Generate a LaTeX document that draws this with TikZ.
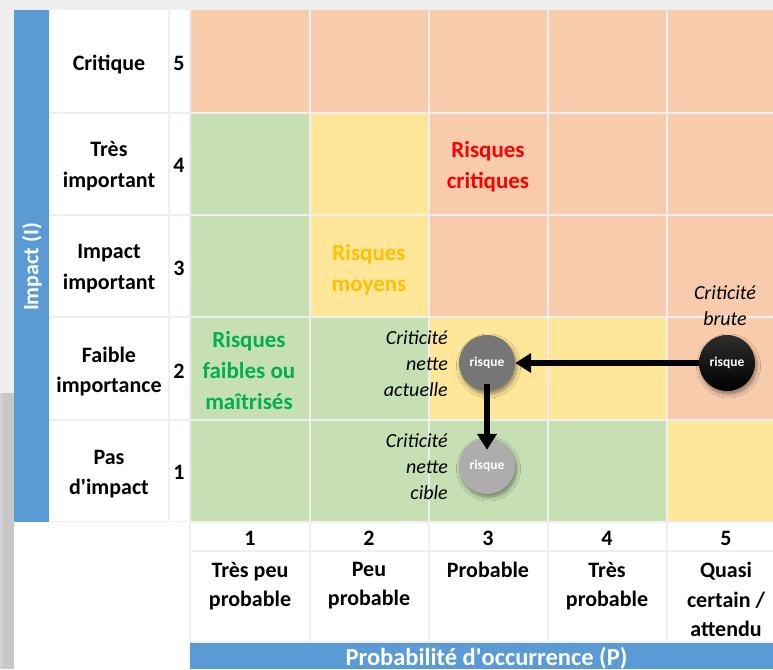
\documentclass[tikz,border=0pt]{standalone}
\usepackage{fontspec}
\setmainfont{Carlito}
\usetikzlibrary{arrows.meta,shadows,shadows.blur}
\definecolor{bggray}{HTML}{EFEFEF}
\definecolor{dkgray}{HTML}{C8C8C8}
\definecolor{ltgray}{HTML}{D2D2D2}
\definecolor{linegray}{HTML}{EFEFEF}
\definecolor{corange}{HTML}{F8CBAD}
\definecolor{cgreen}{HTML}{C6E0B4}
\definecolor{cyellow}{HTML}{FFE699}
\definecolor{cblue}{HTML}{5B9BD5}
\definecolor{tred}{HTML}{FF0000}
\definecolor{tgold}{HTML}{FFC000}
\definecolor{tgreen}{HTML}{00B050}
\definecolor{cdark}{HTML}{767676}
\definecolor{clight}{HTML}{ADADAD}
\newcommand{\qapos}{\textquotesingle}
\begin{document}
\begin{tikzpicture}[x=1pt,y=-1pt,
  txt/.style={inner sep=0pt, align=center, execute at begin node=\strut, execute at end node=\strut},
  lbl/.style={txt, font=\fontsize{22}{30.5}\selectfont\bfseries},
  blbl/.style={txt, font=\fontsize{22}{29.5}\selectfont\bfseries, anchor=north},
  risk/.style={txt, font=\fontsize{23}{31}\selectfont\bfseries},
  crit/.style={txt, font=\fontsize{20}{26}\selectfont\itshape},
  bluetxt/.style={inner sep=0pt, text=white},
  riskball/.style={circle, inner sep=0pt, minimum size=56pt, text=white,
    font=\fontsize{13.5}{16}\selectfont\bfseries,
    blur shadow={shadow xshift=1.5pt, shadow yshift=-3pt, shadow blur radius=4pt, shadow blur steps=8, shadow opacity=45}},
  bigarrow/.style={line width=5.5pt, -{Triangle[length=16pt,width=19pt]}}
]
\useasboundingbox (0,0) rectangle (773,669);
% background
\fill[white] (0,0) rectangle (773,669);
\fill[bggray] (0,0) rectangle (773,10);
\fill[bggray] (0,0) rectangle (14,393);
\fill[dkgray] (0,393) rectangle (14,669);
\fill[ltgray] (0,393) rectangle (3,669);
% grid lines background
\fill[linegray] (49,10) rectangle (773,522);
\fill[linegray] (189,522) rectangle (773,643);
% blue bars
\fill[cblue] (14,10) rectangle (49,522);
\fill[cblue] (190,643) rectangle (773,669);
\node[bluetxt, rotate=90, font=\fontsize{22}{26}\selectfont\bfseries] (axisI) at (32,267) {Impact (I)};
\node[bluetxt, anchor=base, font=\fontsize{24.5}{28}\selectfont\bfseries] (axisP) at (486.5,665) {Probabilité d\qapos occurrence (P)};
% row label and number cells
\foreach \t/\b in {10/112,114/214,216/316,318/419,421/521}{
  \fill[white] (50,\t) rectangle (168,\b);
  \fill[white] (170,\t) rectangle (189,\b);
}
% row 5
\foreach \l/\r in {191/309,311/428,430/547,549/666,668/773}{\fill[corange] (\l,10) rectangle (\r,112);}
% row 4 and 3
\foreach \t/\b in {114/214,216/316}{
  \fill[cgreen] (191,\t) rectangle (309,\b);
  \fill[cyellow] (311,\t) rectangle (428,\b);
  \fill[corange] (430,\t) rectangle (547,\b);
  \fill[corange] (549,\t) rectangle (666,\b);
  \fill[corange] (668,\t) rectangle (773,\b);
}
% row 2
\fill[cgreen] (191,318) rectangle (309,419);
\fill[cgreen] (311,318) rectangle (428,419);
\fill[cyellow] (430,318) rectangle (547,419);
\fill[cyellow] (549,318) rectangle (666,419);
\fill[corange] (668,318) rectangle (773,419);
% row 1
\fill[cgreen] (191,421) rectangle (309,521);
\fill[cgreen] (311,421) rectangle (428,521);
\fill[cgreen] (430,421) rectangle (547,521);
\fill[cgreen] (549,421) rectangle (666,521);
\fill[cyellow] (668,421) rectangle (773,521);
% bottom header cells
\foreach \l/\r in {191/309,311/428,430/547,549/666,668/773}{
  \fill[white] (\l,523) rectangle (\r,550);
  \fill[white] (\l,552) rectangle (\r,641);
}
% row labels
\node[lbl] (i5) at (109,64) {Critique};
\node[lbl] (i4) at (109,169) {Très\\important};
\node[lbl] (i3) at (109,271.5) {Impact\\important};
\node[lbl] (i2) at (109,374.5) {Faible\\importance};
\node[lbl] (i1) at (109,477) {Pas\\d\qapos impact};
\node[lbl] (n5) at (179,64) {5};
\node[lbl] (n4) at (179,166) {4};
\node[lbl] (n3) at (179,269) {3};
\node[lbl] (n2) at (179,372) {2};
\node[lbl] (n1) at (179,473) {1};
% column numbers and labels
\node[lbl] (p1) at (250,539) {1};
\node[lbl] (p2) at (369,539) {2};
\node[lbl] (p3) at (488,539) {3};
\node[lbl] (p4) at (607,539) {4};
\node[lbl] (p5) at (726,539) {5};
\node[blbl] (q1) at (250,562) {Très peu\\probable};
\node[blbl] (q2) at (369,562) {Peu\\probable};
\node[blbl] (q3) at (488,557) {Probable};
\node[blbl] (q4) at (607,562) {Très\\probable};
\node[blbl] (q5) at (726,562) {Quasi\\certain /\\attendu};
% risk zone labels
\node[risk, text=tred] (rc) at (488,169.5) {Risques\\critiques};
\node[risk, text=tgold] (rm) at (369,272.5) {Risques\\moyens};
\node[risk, text=tgreen] (rf) at (249,375) {Risques\\faibles ou\\maîtrisés};
% criticity labels
\node[crit] (lb) at (725,309.5) {Criticité\\brute};
\node[crit, align=right, anchor=east] (la) at (448,367.5) {Criticité\\nette\\actuelle};
\node[crit, align=right, anchor=east] (lc) at (448,470.5) {Criticité\\nette\\cible};
% risk balls
\node[riskball, top color=black!82, bottom color=black] (brute) at (727,363) {risque};
\node[riskball, fill=cdark] (actuelle) at (487,363) {risque};
\node[riskball, fill=clight] (cible) at (487,466) {risque};
% arrows
\draw[bigarrow] (brute.west) -- (actuelle.east);
\draw[bigarrow] ([yshift=7pt]actuelle.south) -- ([yshift=-12pt]cible.north);
\end{tikzpicture}
\end{document}
